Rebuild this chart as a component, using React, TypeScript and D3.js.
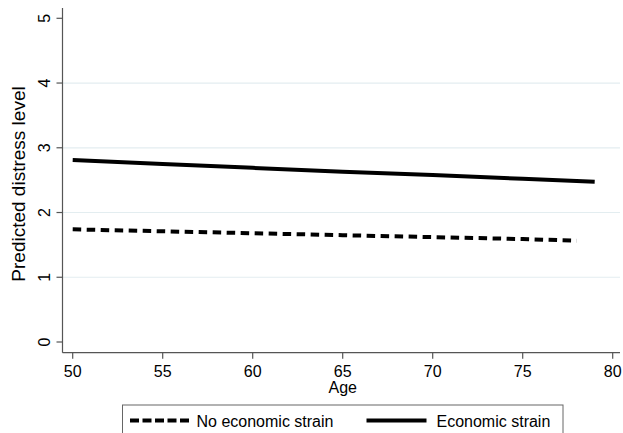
import React from "react";
import * as d3 from "d3";

const agesNoStrain = [50, 55, 60, 65, 70, 75, 78];
const valuesNoStrain = [1.74, 1.71, 1.68, 1.65, 1.62, 1.59, 1.565];
const agesStrain = [50, 55, 60, 65, 70, 75, 79];
const valuesStrain = [2.81, 2.75, 2.69, 2.63, 2.58, 2.52, 2.475];
const xTicks = [50, 55, 60, 65, 70, 75, 80];
const yTicks = [0, 1, 2, 3, 4, 5];
const gridTicks = [1, 2, 3, 4];
const legendLabels = ["No economic strain", "Economic strain"];

const W = 623;
const H = 433;
const FONT = "'Liberation Sans', Arial, Helvetica, sans-serif";

export default function App() {
  const x = d3.scaleLinear().domain([50, 80]).range([72.7, 612.7]);
  const y = d3.scaleLinear().domain([0, 5]).range([342, 18.3]);
  const axisLeftX = 62.5;
  const axisBottomY = 352.7;
  const plotRight = 620;
  const plotTop = 8;

  const line = d3
    .line<[number, number]>()
    .x((d) => x(d[0]))
    .y((d) => y(d[1]));

  const noData = agesNoStrain.map((a, i) => [a, valuesNoStrain[i]] as [number, number]);
  const stData = agesStrain.map((a, i) => [a, valuesStrain[i]] as [number, number]);

  return (
    <svg
      width={W}
      height={H}
      style={{ position: "absolute", left: 0, top: 0, background: "#fff" }}
      fontFamily={FONT}
    >
      <rect x={0} y={0} width={W} height={H} fill="#fff" />
      {gridTicks.map((t) => (
        <line
          key={"g" + t}
          x1={axisLeftX}
          x2={plotRight}
          y1={y(t)}
          y2={y(t)}
          stroke="#e3edf0"
          strokeWidth={1.2}
        />
      ))}
      <path d={line(noData) || ""} fill="none" stroke="#000" strokeWidth={4} strokeDasharray="8.5,5.5" />
      <path d={line(stData) || ""} fill="none" stroke="#000" strokeWidth={4} />

      {/* axes */}
      <line x1={axisLeftX} x2={axisLeftX} y1={plotTop} y2={axisBottomY} stroke="#555" strokeWidth={1.2} />
      <line x1={axisLeftX} x2={plotRight} y1={axisBottomY} y2={axisBottomY} stroke="#555" strokeWidth={1.2} />
      {yTicks.map((t) => (
        <g key={"y" + t}>
          <line x1={axisLeftX - 6} x2={axisLeftX} y1={y(t)} y2={y(t)} stroke="#555" strokeWidth={1.2} />
          <text
            transform={`translate(50,${y(t)}) rotate(-90)`}
            textAnchor="middle"
            fontSize={16}
            fill="#000"
          >
            {t}
          </text>
        </g>
      ))}
      {xTicks.map((t) => (
        <g key={"x" + t}>
          <line x1={x(t)} x2={x(t)} y1={axisBottomY} y2={axisBottomY + 6} stroke="#555" strokeWidth={1.2} />
          <text x={x(t)} y={377} textAnchor="middle" fontSize={16} fill="#000">
            {t}
          </text>
        </g>
      ))}
      <text
        transform={`translate(25,184) rotate(-90)`}
        textAnchor="middle"
        fontSize={19}
        fill="#000"
      >
        Predicted distress level
      </text>
      <text x={x(65)} y={393} textAnchor="middle" fontSize={16} fill="#000">
        Age
      </text>

      {/* legend */}
      <rect x={122.5} y={405} width={440.5} height={40} fill="#fff" stroke="#666" strokeWidth={1} />
      <line x1={130} x2={190} y1={420.5} y2={420.5} stroke="#000" strokeWidth={4} strokeDasharray="9,3.5" />
      <text x={196.5} y={427} fontSize={16} fill="#000">
        {legendLabels[0]}
      </text>
      <line x1={366.5} x2={426.5} y1={420.5} y2={420.5} stroke="#000" strokeWidth={4} />
      <text x={436.5} y={427} fontSize={16} fill="#000">
        {legendLabels[1]}
      </text>
    </svg>
  );
}
